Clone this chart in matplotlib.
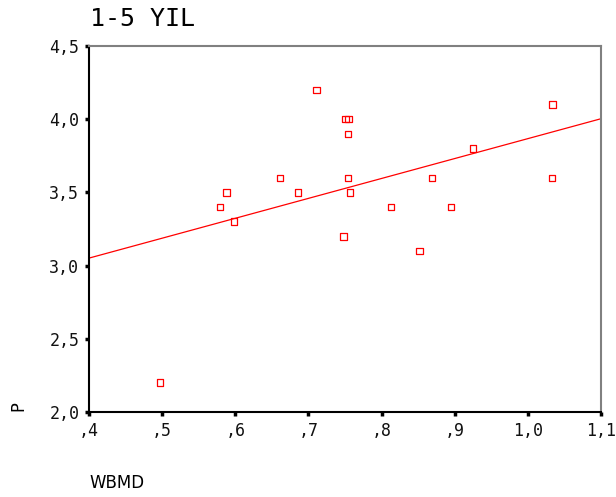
import numpy as np
import matplotlib.pyplot as plt

# Veriler
wbmd = [0.497, 0.579, 0.588, 0.598, 0.661, 0.686, 0.711, 0.748, 0.751, 0.755,
        0.754, 0.754, 0.757, 0.813, 0.852, 0.869, 0.895, 0.925, 1.033, 1.034]
p = [2.2, 3.4, 3.5, 3.3, 3.6, 3.5, 4.2, 3.2, 4.0, 4.0,
     3.9, 3.6, 3.5, 3.4, 3.1, 3.6, 3.4, 3.8, 3.6, 4.1]

xticks = [0.4, 0.5, 0.6, 0.7, 0.8, 0.9, 1.0, 1.1]
xlabels = [',4', ',5', ',6', ',7', ',8', ',9', '1,0', '1,1']
yticks = [2.0, 2.5, 3.0, 3.5, 4.0, 4.5]
ylabels = ['2,0', '2,5', '3,0', '3,5', '4,0', '4,5']

plt.rcParams['font.family'] = 'DejaVu Sans Mono'

fig = plt.figure(figsize=(6.16, 4.97), dpi=100)
ax = fig.add_axes([0.1445, 0.171, 0.8311, 0.7364])

ax.scatter(wbmd, p, marker='s', s=22, facecolors='none', edgecolors='red', linewidths=0.9)

# Regresyon doğrusu
b, a = np.polyfit(wbmd, p, 1)
xs = np.array([0.4, 1.1])
ax.plot(xs, a + b * xs, color='red', linewidth=0.9)

ax.set_xlim(0.4, 1.1)
ax.set_ylim(2.0, 4.5)
ax.set_xticks(xticks)
ax.set_xticklabels(xlabels)
ax.set_yticks(yticks)
ax.set_yticklabels(ylabels)
ax.tick_params(length=3, width=2.5, labelsize=12, direction='out', pad=4, labelcolor='#111111')

for s in ['left', 'bottom']:
    ax.spines[s].set_color('black')
    ax.spines[s].set_linewidth(1.5)
for s in ['top', 'right']:
    ax.spines[s].set_color('gray')
    ax.spines[s].set_linewidth(1.5)

fig.text(0.146, 0.962, '1-5 YIL', fontsize=18, va='center', ha='left')
fig.text(0.146, 0.028, 'WBMD', fontsize=12, va='center', ha='left', family='DejaVu Sans')
fig.text(0.03, 0.183, 'P', fontsize=12, va='center', ha='center', rotation=90)

fig.savefig('out.png', dpi=100)
